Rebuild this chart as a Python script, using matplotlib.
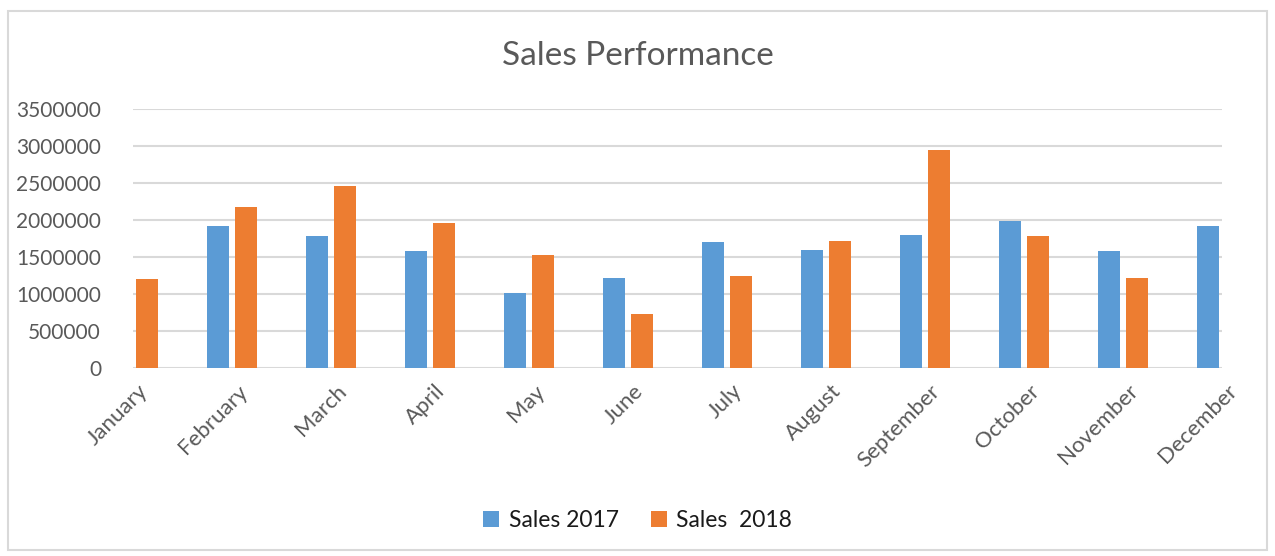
import numpy as np
import matplotlib.pyplot as plt
from matplotlib.patches import Rectangle
from matplotlib.transforms import ScaledTranslation

plt.rcParams['font.family'] = ['Lato', 'DejaVu Sans']

# данные по месяцам
months = ['January', 'February', 'March', 'April', 'May', 'June',
          'July', 'August', 'September', 'October', 'November', 'December']
sales_2017 = [0, 1920000, 1780000, 1580000, 1020000, 1210000,
              1705000, 1595000, 1795000, 1985000, 1580000, 1920000]
sales_2018 = [1205000, 2180000, 2455000, 1955000, 1525000, 725000,
              1240000, 1710000, 2945000, 1780000, 1210000, 0]

blue = '#5B9BD5'
orange = '#ED7D31'
grey = '#595959'

fig = plt.figure(figsize=(12.75, 5.56), dpi=100)
ax = fig.add_axes([0.1043, 0.3381, 0.8541, 0.4659])

x = np.arange(len(months))
w = 0.22
ax.bar(x - 0.14, sales_2017, w, color=blue, label='Sales 2017', zorder=3)
ax.bar(x + 0.14, sales_2018, w, color=orange, label='Sales  2018', zorder=3)

ax.set_xlim(0, 11)
ax.set_ylim(0, 3500000)
ax.set_yticks(np.arange(0, 3500001, 500000))
ax.yaxis.set_major_formatter(plt.FuncFormatter(lambda v, p: '%d' % v))
ax.grid(axis='y', color='#D9D9D9', linewidth=1.5, zorder=0)
ax.set_axisbelow(True)
for s in ax.spines.values():
    s.set_visible(False)
ax.tick_params(axis='y', length=0, labelsize=15, labelcolor=grey, pad=23)
ax.tick_params(axis='x', length=0, labelsize=16, labelcolor=grey)

ax.set_xticks(x)
ax.set_xticklabels(months, rotation=45, ha='right', rotation_mode='anchor')
for lab in ax.get_xticklabels():
    lab.set_transform(lab.get_transform() + ScaledTranslation(5 / 100, -8 / 100, fig.dpi_scale_trans))

fig.text(0.5, 0.9, 'Sales Performance', ha='center', va='center', fontsize=24, color=grey)

leg = fig.legend(loc='center', bbox_to_anchor=(0.5, 0.064), ncol=2, frameon=False,
                 fontsize=16.5, handlelength=0.7, handleheight=0.7, handletextpad=0.4,
                 columnspacing=1.4)
for t in leg.get_texts():
    t.set_color('#1a1a1a')

# рамка вокруг диаграммы
fig.patches.append(Rectangle((0.006, 0.01), 0.988, 0.97, transform=fig.transFigure,
                             fill=False, edgecolor='#D9D9D9', linewidth=1.5))

fig.savefig('out.png', dpi=100)
